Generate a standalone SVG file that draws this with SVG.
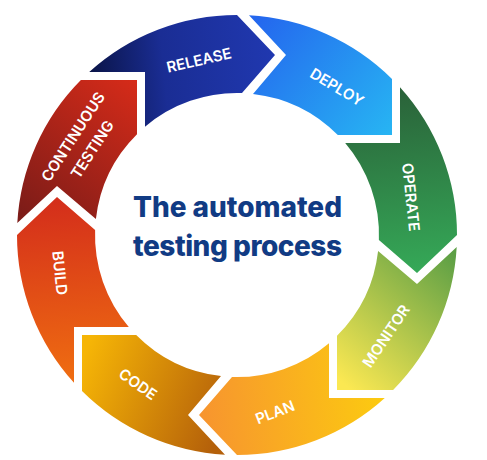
<svg xmlns="http://www.w3.org/2000/svg" width="487" height="460" viewBox="0 0 487 460">
<defs>
<linearGradient id="gRelease" gradientUnits="userSpaceOnUse" x1="89" y1="72" x2="275" y2="55"><stop offset="0" stop-color="#0a1447"/><stop offset="0.4" stop-color="#1a2d94"/><stop offset="1" stop-color="#2038b0"/></linearGradient>
<linearGradient id="gDeploy" gradientUnits="userSpaceOnUse" x1="255" y1="20" x2="392" y2="135"><stop offset="0" stop-color="#2467ee"/><stop offset="1" stop-color="#27b5f3"/></linearGradient>
<linearGradient id="gOperate" gradientUnits="userSpaceOnUse" x1="400" y1="90" x2="420" y2="270"><stop offset="0" stop-color="#2a6239"/><stop offset="1" stop-color="#35a857"/></linearGradient>
<linearGradient id="gMonitor" gradientUnits="userSpaceOnUse" x1="345" y1="385" x2="456" y2="255"><stop offset="0" stop-color="#fbe852"/><stop offset="1" stop-color="#5c9f45"/></linearGradient>
<linearGradient id="gPlan" gradientUnits="userSpaceOnUse" x1="199" y1="415" x2="385" y2="398"><stop offset="0" stop-color="#f7942f"/><stop offset="1" stop-color="#fccb10"/></linearGradient>
<linearGradient id="gCode" gradientUnits="userSpaceOnUse" x1="82" y1="360" x2="225" y2="420"><stop offset="0" stop-color="#f6b506"/><stop offset="1" stop-color="#b4600a"/></linearGradient>
<linearGradient id="gBuild" gradientUnits="userSpaceOnUse" x1="57" y1="200" x2="74" y2="380"><stop offset="0" stop-color="#d42e1b"/><stop offset="1" stop-color="#ef6d11"/></linearGradient>
<linearGradient id="gCT" gradientUnits="userSpaceOnUse" x1="137" y1="80" x2="30" y2="220"><stop offset="0" stop-color="#d62b19"/><stop offset="1" stop-color="#7d1c18"/></linearGradient>
</defs>
<style>
.lbl{font-family:Inter,"Open Sans","Liberation Sans",sans-serif;font-weight:600;font-size:15px;fill:#ffffff;text-anchor:middle}
.title{font-family:Inter,"Open Sans","Liberation Sans",sans-serif;font-weight:800;font-size:28px;fill:#113b84;text-anchor:middle}
</style>
<rect width="487" height="460" fill="#ffffff"/>
<g id="release">
<path d="M89.2,72 A220,220 0 0 1 237,15 L275,55 L242,93.1 A142,142 0 0 0 145,126.8 L145,72 Z" fill="url(#gRelease)"/>
<text class="lbl" transform="translate(199,60) rotate(-13)" y="5.5">RELEASE</text>
</g>
<g id="deploy">
<path d="M249,15.3 A220,220 0 0 1 392,78.9 L392,135 L337.8,135 A142,142 0 0 0 253,93.9 L286,55 Z" fill="url(#gDeploy)"/>
<text class="lbl" transform="translate(337,87) rotate(31)" y="5.5">DEPLOY</text>
</g>
<g id="operate">
<path d="M400,87.2 A220,220 0 0 1 457,235 L417,273 L378.9,240 A142,142 0 0 0 345.2,143 L400,143 Z" fill="url(#gOperate)"/>
<text class="lbl" transform="translate(411,197) rotate(84)" y="5.5">OPERATE</text>
</g>
<g id="monitor">
<path d="M456.7,247 A220,220 0 0 1 393.1,390 L337,390 L337,335.8 A142,142 0 0 0 378.1,251 L417,284 Z" fill="url(#gMonitor)"/>
<text class="lbl" transform="translate(386,336) rotate(-56)" y="5.5">MONITOR</text>
</g>
<g id="plan">
<path d="M384.8,398 A220,220 0 0 1 237,455 L199,415 L232,376.9 A142,142 0 0 0 329,343.2 L329,398 Z" fill="url(#gPlan)"/>
<text class="lbl" transform="translate(275,412) rotate(-21)" y="5.5">PLAN</text>
</g>
<g id="code">
<path d="M225,454.7 A220,220 0 0 1 82,391.1 L82,335 L136.2,335 A142,142 0 0 0 221,376.1 L188,415 Z" fill="url(#gCode)"/>
<text class="lbl" transform="translate(138,384) rotate(35)" y="5.5">CODE</text>
</g>
<g id="build">
<path d="M74,382.8 A220,220 0 0 1 17,235 L57,197 L95.1,230 A142,142 0 0 0 128.8,327 L74,327 Z" fill="url(#gBuild)"/>
<text class="lbl" transform="translate(60,273) rotate(84)" y="5.5">BUILD</text>
</g>
<g id="continuous-testing">
<path d="M17.3,223 A220,220 0 0 1 80.9,80 L137,80 L137,134.2 A142,142 0 0 0 95.9,219 L57,186 Z" fill="url(#gCT)"/>
<text class="lbl" transform="translate(82.5,143) rotate(-57)"><tspan x="0" y="-6">CONTINUOUS</tspan><tspan x="0" y="17">TESTING</tspan></text>
</g>
<g id="title">
<text class="title" x="237.5" y="217" textLength="209" lengthAdjust="spacing">The automated</text>
<text class="title" x="237.5" y="256" textLength="209" lengthAdjust="spacing">testing process</text>
</g>
<g id="connectors"/>
</svg>
